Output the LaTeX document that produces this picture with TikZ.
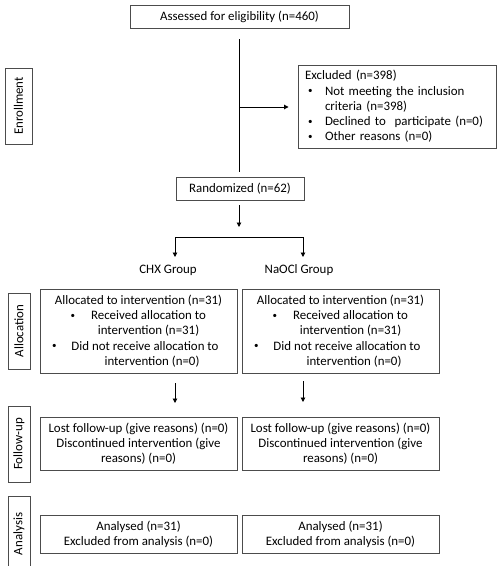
\documentclass[tikz,border=0pt]{standalone}
\usepackage{fontspec}
\setmainfont{Carlito}
\usetikzlibrary{arrows.meta}
\newcommand{\mybul}{\raisebox{1.2pt}{\fontsize{9}{9}\selectfont\textbullet}}
\begin{document}
\begin{tikzpicture}[x=1pt,y=-1pt,
  every node/.style={font=\fontsize{12.9}{15.3}\selectfont, text=black},
  box/.style={draw=black!70, line width=0.9pt, rectangle, inner sep=0pt, align=center},
  lab/.style={draw=black!70, line width=0.9pt, rectangle, rotate=90, inner sep=0pt, minimum width=76pt, minimum height=22pt},
  conn/.style={draw=black, line width=0.9pt},
  arr/.style={conn, -{Triangle[length=4.5pt,width=4.5pt]}},
]
\clip (0,0) rectangle (502,566);
% boxes
\node[box, minimum width=219pt, minimum height=23pt] (assess) at (239.5,16.5) {Assessed for eligibility (n=460)};
\node[box, minimum width=198pt, minimum height=83pt, text width=184pt, inner xsep=7pt, align=left] (excl) at (397,106.5)
  {Excluded (n=398)\\
   \makebox[20pt][l]{\hspace{3pt}\mybul}Not meeting the inclusion\\
   \hspace*{20pt}criteria (n=398)\\
   \makebox[20pt][l]{\hspace{3pt}\mybul}Declined to\ \ participate (n=0)\\
   \makebox[20pt][l]{\hspace{3pt}\mybul}Other reasons (n=0)};
\node[box, minimum width=128pt, minimum height=23pt] (rand) at (240,188.5) {Randomized (n=62)};
\node (chx) at (168,270) {CHX Group};
\node (naocl) at (299,270) {NaOCl Group};
\node[box, minimum width=197pt, minimum height=84pt] (allocL) at (138.5,331)
  {Allocated to intervention (n=31)\\
   \hspace*{20pt}\llap{\mybul\hspace{16pt}}Received allocation to\\
   \hspace*{20pt}intervention (n=31)\\
   \hspace*{13pt}\llap{\mybul\hspace{15pt}}Did not receive allocation to\\
   \hspace*{27pt}intervention (n=0)};
\node[box, minimum width=197pt, minimum height=84pt] (allocR) at (340.5,331)
  {Allocated to intervention (n=31)\\
   \hspace*{20pt}\llap{\mybul\hspace{16pt}}Received allocation to\\
   \hspace*{20pt}intervention (n=31)\\
   \hspace*{13pt}\llap{\mybul\hspace{15pt}}Did not receive allocation to\\
   \hspace*{27pt}intervention (n=0)};
\node[box, minimum width=197pt, minimum height=53pt] (fupL) at (138.5,443.5)
  {Lost follow-up (give reasons) (n=0)\\ Discontinued intervention (give\\ reasons) (n=0)};
\node[box, minimum width=197pt, minimum height=53pt] (fupR) at (340.5,443.5)
  {Lost follow-up (give reasons) (n=0)\\ Discontinued intervention (give\\ reasons) (n=0)};
\node[box, minimum width=197pt, minimum height=38pt] (anaL) at (138.5,534)
  {Analysed (n=31)\\ Excluded from analysis (n=0)};
\node[box, minimum width=197pt, minimum height=38pt] (anaR) at (340.5,534)
  {Analysed (n=31)\\ Excluded from analysis (n=0)};
% side labels
\node[lab, minimum height=27pt] (lenr) at (18.5,106) {Enrollment};
\node[lab] (lall) at (19,331) {Allocation};
\node[lab] (lfol) at (19,444) {Follow-up};
\node[lab] (lana) at (19,534) {Analysis};
% connectors
\coordinate (v1) at (239,39);
\coordinate (v2) at (239,172);
\coordinate (vm) at (239,107);
\draw[conn] (v1) -- (v2);
\draw[arr, shorten >=9pt] (vm) -- (vm -| excl.west);
\coordinate (r1) at (239,205);
\coordinate (r2) at (239,227);
\draw[arr] (r1) -- (r2);
\coordinate (bt) at (239,237);
\coordinate (bl) at (175,257);
\coordinate (br) at (303,257);
\draw[arr] (bt) -| (bl);
\draw[arr] (bt) -| (br);
\coordinate (al1) at (175,383);
\coordinate (al2) at (175,403);
\coordinate (ar1) at (303,381);
\coordinate (ar2) at (303,402);
\draw[arr] (al1) -- (al2);
\draw[arr] (ar1) -- (ar2);
\end{tikzpicture}
\end{document}
